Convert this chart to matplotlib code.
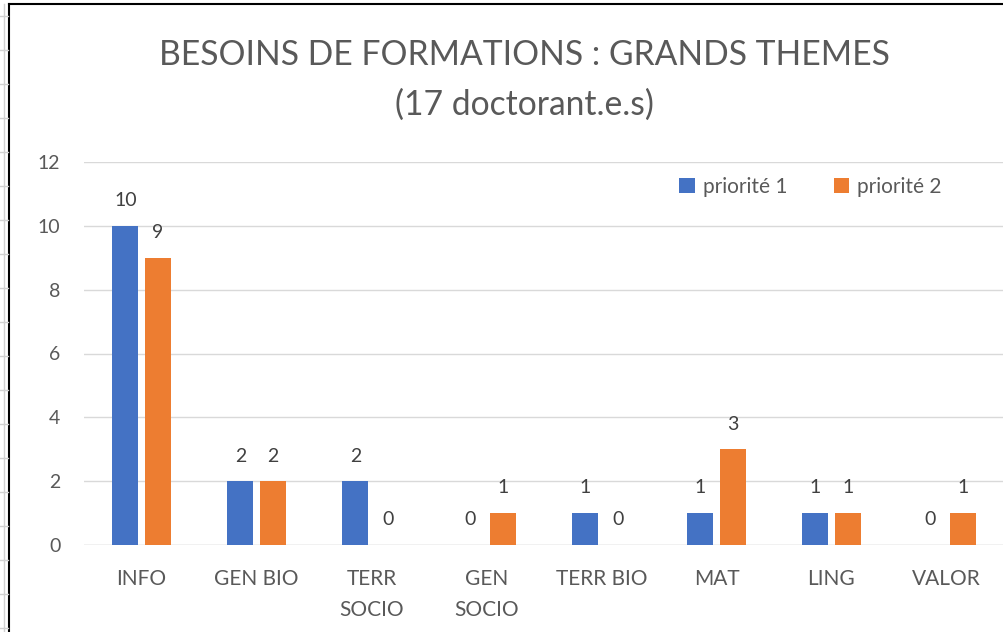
import matplotlib
matplotlib.use("Agg")
import matplotlib.pyplot as plt
from matplotlib.lines import Line2D
import numpy as np

categories = ["INFO", "GEN BIO", "TERR\nSOCIO", "GEN\nSOCIO", "TERR BIO", "MAT", "LING", "VALOR"]
priorite1 = [10, 2, 2, 0, 1, 1, 1, 0]
priorite2 = [9, 2, 0, 1, 0, 3, 1, 1]
series_names = ["priorité 1", "priorité 2"]
yticks = [0, 2, 4, 6, 8, 10, 12]

plt.rcParams['font.family'] = ['Lato', 'DejaVu Sans']

W, H = 1004, 632
fig = plt.figure(figsize=(W / 100, H / 100), dpi=100)
fig.patch.set_facecolor("white")

# plot area: x 84..1004, y 162..545 (pixels from top)
ax = fig.add_axes([84 / W, 1 - 545 / H, (1004 - 84) / W, (545 - 162) / H])
x = np.arange(len(categories))
bw = 0.225
off = 0.14
blue = "#4472C4"
orange = "#ED7D31"
b1 = ax.bar(x - off, priorite1, bw, color=blue, label=series_names[0], zorder=3)
b2 = ax.bar(x + off, priorite2, bw, color=orange, label=series_names[1], zorder=3)
for bars in (b1, b2):
    ax.bar_label(bars, padding=12, fontsize=14, color="#404040")

ax.set_xlim(-0.5, len(categories) - 0.5)
ax.set_ylim(0, 12)
ax.set_yticks(yticks)
ax.set_yticklabels([str(v) for v in yticks], fontsize=14, color="#595959")
ax.set_xticks(x)
ax.set_xticklabels(categories, fontsize=15, color="#595959", linespacing=1.7, va="top")
ax.tick_params(axis="both", length=0)
ax.tick_params(axis="x", pad=17)
ax.tick_params(axis="y", pad=17)
ax.grid(axis="y", color="#D9D9D9", linewidth=1, zorder=0)
for s in ax.spines.values():
    s.set_visible(False)
ax.axhline(0, color="#D9D9D9", linewidth=1, zorder=2)

leg = ax.legend(loc="center right", bbox_to_anchor=((942 - 84) / 920, 1 - (187 - 162) / 383),
                ncol=2, frameon=False, borderpad=0, borderaxespad=0,
                fontsize=15, handlelength=0.75, handleheight=0.75, handletextpad=0.4,
                columnspacing=2.2)
for t in leg.get_texts():
    t.set_color("#595959")

fig.text(524 / W, 1 - 55 / H, "BESOINS DE FORMATIONS : GRANDS THEMES", ha="center", va="center",
         fontsize=24.2, color="#595959")
fig.text(524 / W, 1 - 105 / H, "(17 doctorant.e.s)", ha="center", va="center",
         fontsize=24.2, color="#595959")

# screenshot frame
fig.add_artist(Line2D([9 / W, 9 / W], [0, 1 - 4 / H], color="black", linewidth=1.5))
fig.add_artist(Line2D([9 / W, 1], [1 - 4 / H, 1 - 4 / H], color="black", linewidth=1.5))
fig.add_artist(Line2D([4 / W, 4 / W], [0, 1 - 4 / H], color="#D0D0D0", linewidth=1))
for yy in range(16, 632, 34):
    fig.add_artist(Line2D([0, 8 / W], [1 - yy / H, 1 - yy / H], color="#D0D0D0", linewidth=1))

fig.savefig("out.png", dpi=100)
